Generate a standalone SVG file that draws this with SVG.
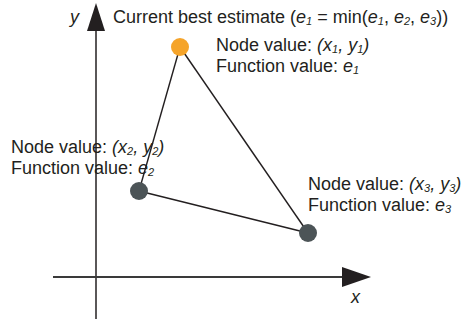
<svg xmlns="http://www.w3.org/2000/svg" width="462" height="324" viewBox="0 0 462 324">
<style>
text{font-family:"Liberation Sans",Arial,sans-serif;font-size:18px;fill:#231f20}
.i{font-style:italic}
.s{font-size:11px;font-style:italic}
.edge{stroke:#231f20;stroke-width:1.4;fill:none}
</style>
<rect width="462" height="324" fill="#fff"/>
<g id="axes">
<line x1="96" y1="28" x2="96" y2="319" stroke="#231f20" stroke-width="1.5"/>
<polygon points="96,3 87,31 105,31" fill="#231f20"/>
<line x1="53" y1="277" x2="344" y2="277" stroke="#3a3a3a" stroke-width="2"/>
<polygon points="371,277 342,267 342,287" fill="#231f20"/>
<text x="70" y="23" class="i">y</text>
<text x="351" y="303" class="i">x</text>
</g>
<g id="title">
<text x="113" y="23">Current best estimate (<tspan class="i">e</tspan><tspan class="s" dy="1.5">1</tspan><tspan dy="-1.5"> = min(</tspan><tspan class="i">e</tspan><tspan class="s" dy="1.5">1</tspan><tspan dy="-1.5">, </tspan><tspan class="i">e</tspan><tspan class="s" dy="1.5">2</tspan><tspan dy="-1.5">, </tspan><tspan class="i">e</tspan><tspan class="s" dy="1.5">3</tspan><tspan dy="-1.5">))</tspan></text>
</g>
<g id="connectors">
<line class="edge" x1="180" y1="47" x2="139" y2="191"/>
<line class="edge" x1="180" y1="47" x2="308" y2="233"/>
<line class="edge" x1="139" y1="191" x2="308" y2="233"/>
</g>
<g id="node1">
<circle cx="180" cy="47" r="9" fill="#f5a42a"/>
<text x="216" y="51">Node value: <tspan class="i">(x</tspan><tspan class="s" dy="1.5">1</tspan><tspan class="i" dy="-1.5">, y</tspan><tspan class="s" dy="1.5">1</tspan><tspan class="i" dy="-1.5">)</tspan></text>
<text x="216" y="72">Function value: <tspan class="i">e</tspan><tspan class="s" dy="1.5">1</tspan></text>
</g>
<g id="node2">
<circle cx="139" cy="191" r="9" fill="#4c5457"/>
<text x="11" y="153">Node value: <tspan class="i">(x</tspan><tspan class="s" dy="1.5">2</tspan><tspan class="i" dy="-1.5">, y</tspan><tspan class="s" dy="1.5">2</tspan><tspan class="i" dy="-1.5">)</tspan></text>
<text x="11" y="174">Function value: <tspan class="i">e</tspan><tspan class="s" dy="1.5">2</tspan></text>
</g>
<g id="node3">
<circle cx="308" cy="233" r="9" fill="#4c5457"/>
<text x="308" y="190">Node value: <tspan class="i">(x</tspan><tspan class="s" dy="1.5">3</tspan><tspan class="i" dy="-1.5">, y</tspan><tspan class="s" dy="1.5">3</tspan><tspan class="i" dy="-1.5">)</tspan></text>
<text x="308" y="211">Function value: <tspan class="i">e</tspan><tspan class="s" dy="1.5">3</tspan></text>
</g>
</svg>
